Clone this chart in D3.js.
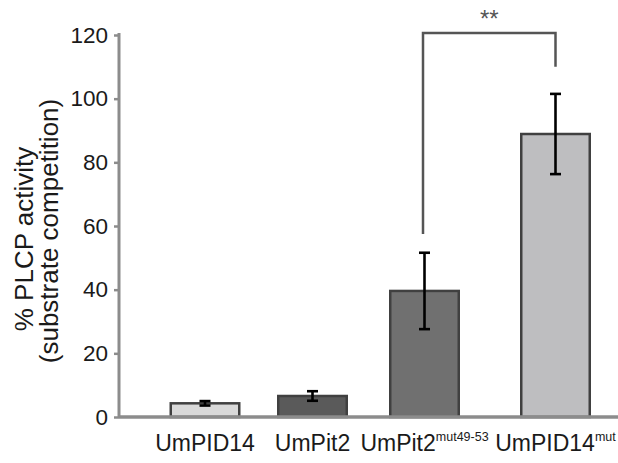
<!DOCTYPE html>
<html><head><meta charset="utf-8">
<script src="https://cdn.jsdelivr.net/npm/d3@7/dist/d3.min.js"></script>
<style>body{margin:0;background:#fff}svg{display:block}text{font-family:"Liberation Sans",Arial,sans-serif}</style>
</head><body><svg id="c" width="618" height="463"></svg>
<script>
const categories = ["UmPID14", "UmPit2", "UmPit2", "UmPID14"];
const superscripts = ["", "", "mut49-53", "mut"];
const keys = ["a", "b", "c", "d"];
const values = [4.3, 6.6, 39.6, 88.9];
const errors = [0.7, 1.5, 12.0, 12.6];
const fills = ["#d9d9d9", "#5a5a5a", "#707070", "#bebec0"];
const yTicks = [0, 20, 40, 60, 80, 100, 120];
const sig = {from: "c", to: "d", top: 120.6, leftEnd: 57.5, rightEnd: 110, label: "**"};

const svg = d3.select("#c");
const y = d3.scaleLinear().domain([0, 120]).range([417, 35]);
const x = d3.scaleOrdinal().domain(keys).range([205, 312.5, 424.5, 555.5]);
const bw = 68.5;

// bars
svg.selectAll("rect.bar").data(values).join("rect")
  .attr("x", (d,i) => x(keys[i]) - bw/2).attr("y", d => y(d))
  .attr("width", bw).attr("height", d => y(0) - y(d))
  .attr("fill", (d,i) => fills[i]).attr("stroke", "#404040").attr("stroke-width", 2.5);

// error bars
const eb = svg.append("g").attr("stroke", "#000").attr("stroke-width", 2.6);
values.forEach((v,i) => {
  const cx = x(keys[i]);
  eb.append("line").attr("x1", cx).attr("x2", cx).attr("y1", y(v+errors[i])).attr("y2", y(v-errors[i]));
  eb.append("line").attr("x1", cx-5.5).attr("x2", cx+5.5).attr("y1", y(v+errors[i])).attr("y2", y(v+errors[i]));
  eb.append("line").attr("x1", cx-5.5).attr("x2", cx+5.5).attr("y1", y(v-errors[i])).attr("y2", y(v-errors[i]));
});

// y axis
const yAxis = d3.axisLeft(y).tickValues(yTicks).tickSize(5).tickPadding(6);
const ga = svg.append("g").attr("transform", "translate(119,0)").call(yAxis);
ga.select(".domain").attr("stroke", "#8c8c8c").attr("stroke-width", 3).attr("d", `M0,${y(120)-2}V${y(0)}`);
ga.selectAll(".tick line").attr("stroke", "#8c8c8c").attr("stroke-width", 2.5);
ga.selectAll(".tick text").attr("font-size", 22.5).attr("fill", "#1a1a1a")
  .attr("font-family", "Liberation Sans, Arial, sans-serif");

// x axis line
svg.append("line").attr("x1", 119).attr("x2", 618).attr("y1", y(0)).attr("y2", y(0))
  .attr("stroke", "#8c8c8c").attr("stroke-width", 3.5);

// x labels
const xl = svg.append("g");
categories.forEach((c,i) => {
  const t = xl.append("text").attr("x", x(keys[i])).attr("y", 451).attr("text-anchor", "middle")
    .attr("font-size", 23).attr("fill", "#1a1a1a");
  t.append("tspan").text(c);
  if (superscripts[i]) t.append("tspan").attr("font-size", 12.5).attr("dy", -10.5).text(superscripts[i]);
});

// y title
svg.append("text").attr("transform", "translate(33,239) rotate(-90)").attr("text-anchor", "middle")
  .attr("font-size", 26).attr("fill", "#1a1a1a").text("% PLCP activity");
svg.append("text").attr("transform", "translate(58,231) rotate(-90)").attr("text-anchor", "middle")
  .attr("font-size", 26).attr("fill", "#1a1a1a").text("(substrate competition)");

// significance bracket
const x1 = x(sig.from) - 1.5, x2 = x(sig.to);
svg.append("path").attr("fill", "none").attr("stroke", "#555").attr("stroke-width", 2.5)
  .attr("d", `M${x1},${y(sig.leftEnd)}V${y(sig.top)}H${x2}V${y(sig.rightEnd)}`);
svg.append("text").attr("x", (x1+x2)/2).attr("y", 27).attr("text-anchor", "middle")
  .attr("font-size", 24).attr("fill", "#555").text(sig.label);
</script></body></html>
